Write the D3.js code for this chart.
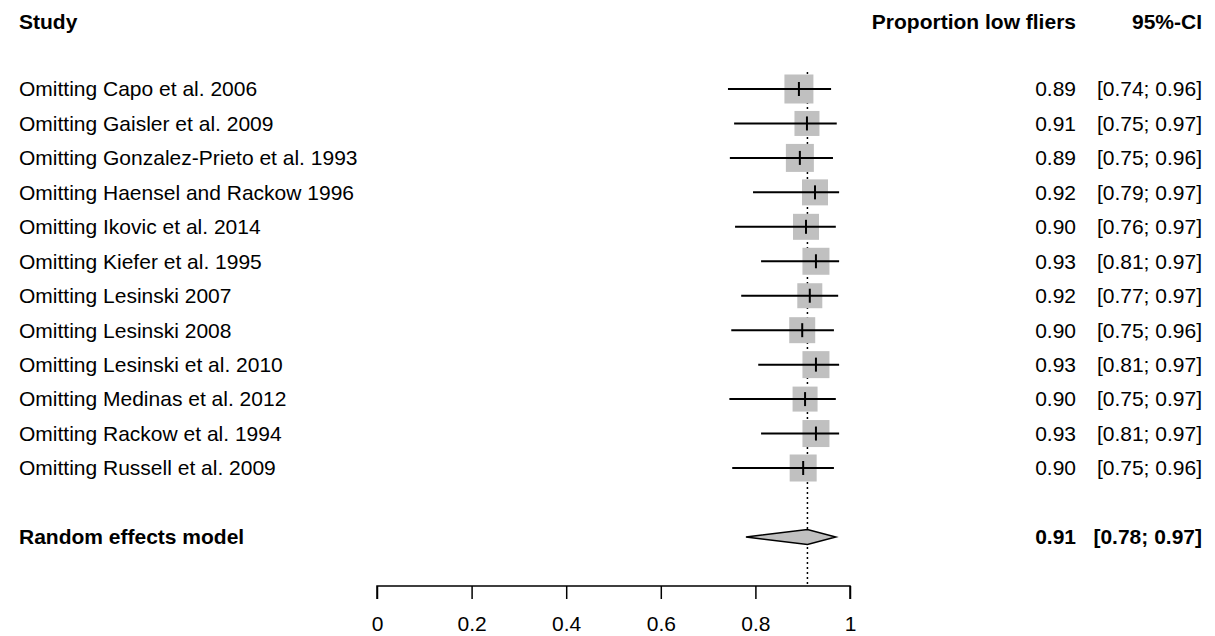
<!DOCTYPE html>
<html>
<head>
<meta charset="utf-8">
<script src="https://cdn.jsdelivr.net/npm/d3@7"></script>
<style>
  body { margin: 0; background: #fff; }
  text { font-family: Arial, "Liberation Sans", sans-serif; }
</style>
</head>
<body>
<div id="chart"></div>
<script>
// Leave-one-out studies
const studies = [
    "Omitting Capo et al. 2006",
    "Omitting Gaisler et al. 2009",
    "Omitting Gonzalez-Prieto et al. 1993",
    "Omitting Haensel and Rackow 1996",
    "Omitting Ikovic et al. 2014",
    "Omitting Kiefer et al. 1995",
    "Omitting Lesinski 2007",
    "Omitting Lesinski 2008",
    "Omitting Lesinski et al. 2010",
    "Omitting Medinas et al. 2012",
    "Omitting Rackow et al. 1994",
    "Omitting Russell et al. 2009"
];
const estimates = [0.892, 0.909, 0.894, 0.926, 0.907, 0.928, 0.915, 0.899, 0.928, 0.905, 0.928, 0.901];
const lower = [0.742, 0.755, 0.746, 0.795, 0.757, 0.812, 0.770, 0.749, 0.806, 0.745, 0.812, 0.751];
const upper = [0.960, 0.972, 0.964, 0.977, 0.970, 0.977, 0.975, 0.966, 0.977, 0.970, 0.977, 0.966];
const weights = [29, 25, 28, 26, 26, 27, 25, 26, 27, 25, 27, 27];
const estLabels = ["0.89", "0.91", "0.89", "0.92", "0.90", "0.93", "0.92", "0.90", "0.93", "0.90", "0.93", "0.90"];
const ciLabels = ["[0.74; 0.96]", "[0.75; 0.97]", "[0.75; 0.96]", "[0.79; 0.97]", "[0.76; 0.97]", "[0.81; 0.97]",
    "[0.77; 0.97]", "[0.75; 0.96]", "[0.81; 0.97]", "[0.75; 0.97]", "[0.81; 0.97]", "[0.75; 0.96]"];
const pooled = { est: 0.91, lo: 0.78, hi: 0.97 };
const pooledLabel = "0.91";
const pooledCI = "[0.78; 0.97]";
const xTicks = [0, 0.2, 0.4, 0.6, 0.8, 1];

const width = 1215, height = 636;
const fontSize = 21;

const svg = d3.select("#chart").append("svg")
    .attr("width", width)
    .attr("height", height);

const x = d3.scaleLinear().domain([0, 1]).range([377, 850]);
const y = d3.scaleLinear().domain([0, 11]).range([89, 468]);
const yPooled = 537;
const axisY = 586;

// Headers
svg.append("text").attr("x", 19).attr("y", 29)
    .attr("font-weight", "bold").attr("font-size", fontSize).text("Study");
svg.append("text").attr("x", 1076).attr("y", 29).attr("text-anchor", "end")
    .attr("font-weight", "bold").attr("font-size", fontSize).text("Proportion low fliers");
svg.append("text").attr("x", 1202).attr("y", 29).attr("text-anchor", "end")
    .attr("font-weight", "bold").attr("font-size", fontSize).text("95%-CI");

// Reference line at pooled estimate
svg.append("line")
    .attr("x1", x(pooled.est)).attr("x2", x(pooled.est))
    .attr("y1", 72).attr("y2", axisY)
    .attr("stroke", "#000").attr("stroke-width", 1.5)
    .attr("stroke-dasharray", "2,3");

// Study rows
const rows = svg.append("g").selectAll("g")
    .data(studies)
    .enter().append("g");

rows.append("rect")
    .attr("x", (d, i) => x(estimates[i]) - weights[i] / 2)
    .attr("y", (d, i) => y(i) - weights[i] / 2)
    .attr("width", (d, i) => weights[i])
    .attr("height", (d, i) => weights[i])
    .attr("fill", "#c0c0c0");

rows.append("line")
    .attr("x1", (d, i) => x(lower[i]))
    .attr("x2", (d, i) => x(upper[i]))
    .attr("y1", (d, i) => y(i))
    .attr("y2", (d, i) => y(i))
    .attr("stroke", "#000").attr("stroke-width", 2);

rows.append("line")
    .attr("x1", (d, i) => x(estimates[i]))
    .attr("x2", (d, i) => x(estimates[i]))
    .attr("y1", (d, i) => y(i) - 7)
    .attr("y2", (d, i) => y(i) + 7)
    .attr("stroke", "#000").attr("stroke-width", 2);

rows.append("text")
    .attr("x", 19).attr("y", (d, i) => y(i))
    .attr("dy", "0.35em").attr("font-size", fontSize)
    .text(d => d);

rows.append("text")
    .attr("x", 1076).attr("y", (d, i) => y(i))
    .attr("dy", "0.35em").attr("font-size", fontSize).attr("text-anchor", "end")
    .text((d, i) => estLabels[i]);

rows.append("text")
    .attr("x", 1202).attr("y", (d, i) => y(i))
    .attr("dy", "0.35em").attr("font-size", fontSize).attr("text-anchor", "end")
    .text((d, i) => ciLabels[i]);

// Pooled diamond
const dh = 7.5;
svg.append("path")
    .attr("d", `M${x(pooled.lo)},${yPooled} L${x(pooled.est)},${yPooled - dh} L${x(pooled.hi)},${yPooled} L${x(pooled.est)},${yPooled + dh} Z`)
    .attr("fill", "#c0c0c0").attr("stroke", "#000").attr("stroke-width", 1.5);

svg.append("text").attr("x", 19).attr("y", yPooled).attr("dy", "0.35em")
    .attr("font-weight", "bold").attr("font-size", fontSize).text("Random effects model");
svg.append("text").attr("x", 1076).attr("y", yPooled).attr("dy", "0.35em").attr("text-anchor", "end")
    .attr("font-weight", "bold").attr("font-size", fontSize).text(pooledLabel);
svg.append("text").attr("x", 1202).attr("y", yPooled).attr("dy", "0.35em").attr("text-anchor", "end")
    .attr("font-weight", "bold").attr("font-size", fontSize).text(pooledCI);

// X axis
const xAxis = d3.axisBottom(x).tickValues(xTicks).tickFormat(d3.format("")).tickSize(13).tickPadding(17);
const ax = svg.append("g")
    .attr("transform", `translate(0,${axisY})`)
    .call(xAxis);
ax.select(".domain").attr("stroke-width", 1.5).attr("d", `M${x(0)},13V0H${x(1)}V13`);
ax.selectAll(".tick line").attr("stroke-width", 1.5);
ax.selectAll(".tick text").attr("font-size", fontSize).attr("font-family", "Arial, 'Liberation Sans', sans-serif").attr("fill", "#000");
</script>
</body>
</html>
